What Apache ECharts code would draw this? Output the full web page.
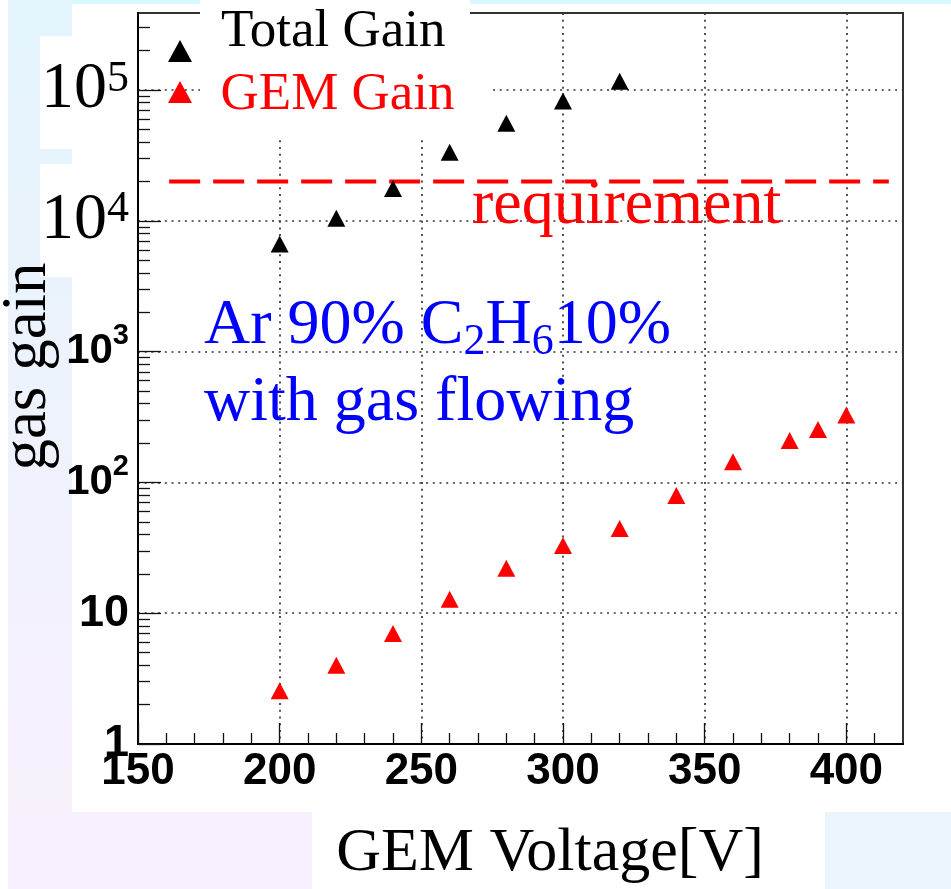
<!DOCTYPE html>
<html><head><meta charset="utf-8">
<script src="https://cdn.jsdelivr.net/npm/echarts@6/dist/echarts.min.js"></script>
<style>html,body{margin:0;padding:0;background:#fff;}#c{width:951px;height:889px;}</style>
</head><body><div id="c"></div>
<script>
// ---- data ----
const xTicks = [150, 200, 250, 300, 350, 400];
const xMinorTicks = [160,170,180,190,210,220,230,240,260,270,280,290,310,320,330,340,360,370,380,390,410];
const yTicks = [1, 10, 100, 1000, 10000, 100000];
const yTickLabels = ['1', '10', '10^2', '10^3', '10^4', '10^5'];
const yMinorTicks = [2,3,4,5,6,7,8,9,20,30,40,50,60,70,80,90,200,300,400,500,600,700,800,900,
  2000,3000,4000,5000,6000,7000,8000,9000,20000,30000,40000,50000,60000,70000,80000,90000,200000,300000];
const voltageTotal = [200, 220, 240, 260, 280, 300, 320];
const totalGain = [6650, 10470, 17700, 33400, 55600, 82600, 116700];
const voltageGem = [200, 220, 240, 260, 280, 300, 320, 340, 360, 380, 390, 400];
const gemGain = [2.55, 4.0, 7.0, 12.8, 22.1, 33.0, 44.5, 79.4, 144, 209, 254, 327];
const requirementX = [161, 415];
const requirementGain = 20000;
const seriesNames = ['Total Gain', 'GEM Gain'];

const serif = "'Liberation Serif','Times New Roman',serif";
const sans = "'Liberation Sans',Arial,sans-serif";

const chart = echarts.init(document.getElementById('c'), null, {renderer: 'canvas'});

function yLabel(v) {
  const i = yTicks.indexOf(v);
  const s = i >= 0 ? yTickLabels[i] : '';
  if (!s) return '';
  const p = s.split('^');
  if (p.length === 1) return '{b|' + s + '}';
  const exp = parseInt(p[1], 10);
  if (exp >= 4) return '{t|' + p[0] + '}{ts|' + p[1] + '}';
  return '{a|' + p[0] + '}{as|' + p[1] + '}';
}

const dotted = {color: '#333', width: 1.7, type: [2, 4.7]};

const option = {
  animation: false,
  backgroundColor: '#ffffff',
  grid: {left: 138, top: 13, right: 48, bottom: 145, show: true, backgroundColor: '#ffffff',
         borderColor: '#333', borderWidth: 2, containLabel: false, outerBoundsMode: 'none'},
  xAxis: [{
    type: 'value', min: 150, max: 420, interval: 50, position: 'bottom',
    axisLine: {show: true, onZero: false, lineStyle: {color: '#000', width: 2}},
    axisTick: {show: true, inside: true, length: 21, customValues: xTicks, lineStyle: {color: '#111', width: 1.3}},
    axisLabel: {show: true, customValues: xTicks, margin: 6, color: '#000', fontFamily: sans, fontWeight: 'bold', fontSize: 44},
    splitLine: {show: true, lineStyle: dotted}
  }, {
    type: 'value', min: 150, max: 420, interval: 50, position: 'bottom',
    axisLine: {show: false, onZero: false},
    axisTick: {show: true, inside: true, length: 11, customValues: xMinorTicks, lineStyle: {color: '#111', width: 1.3}},
    axisLabel: {show: false},
    splitLine: {show: false}
  }],
  yAxis: [{
    type: 'log', logBase: 10, min: 1, max: 388000, position: 'left',
    axisLine: {show: true, onZero: false, lineStyle: {color: '#000', width: 2}},
    axisTick: {show: true, inside: true, length: 23, customValues: yTicks, lineStyle: {color: '#111', width: 1.3}},
    axisLabel: {show: true, customValues: yTicks, margin: 9, color: '#000', formatter: yLabel,
      rich: {
        b: {fontFamily: sans, fontWeight: 'bold', fontSize: 45, lineHeight: 45, color: '#000'},
        a: {fontFamily: sans, fontWeight: 'bold', fontSize: 42, lineHeight: 60, color: '#000'},
        as: {fontFamily: sans, fontWeight: 'bold', fontSize: 29, lineHeight: 30, verticalAlign: 'top', color: '#000'},
        t: {fontFamily: serif, fontSize: 66, lineHeight: 66, color: '#000'},
        ts: {fontFamily: serif, fontSize: 44, lineHeight: 44, verticalAlign: 'top', color: '#000'}
      }},
    splitLine: {show: true, lineStyle: dotted}
  }, {
    type: 'log', logBase: 10, min: 1, max: 388000, position: 'left',
    axisLine: {show: false, onZero: false},
    axisTick: {show: true, inside: true, length: 12, customValues: yMinorTicks, lineStyle: {color: '#111', width: 1.3}},
    axisLabel: {show: false},
    splitLine: {show: false}
  }],
  series: [{
    name: seriesNames[0], type: 'scatter', xAxisIndex: 0, yAxisIndex: 0,
    symbol: 'triangle', symbolSize: [18, 17], itemStyle: {color: '#000000', opacity: 1},
    data: voltageTotal.map((v, i) => [v, totalGain[i]]), z: 5
  }, {
    name: seriesNames[1], type: 'scatter', xAxisIndex: 0, yAxisIndex: 0,
    symbol: 'triangle', symbolSize: [18, 17], itemStyle: {color: '#ff0000', opacity: 1},
    data: voltageGem.map((v, i) => [v, gemGain[i]]), z: 5
  }, {
    name: 'requirement', type: 'line', xAxisIndex: 0, yAxisIndex: 0, symbol: 'none',
    lineStyle: {color: '#ff0000', width: 4, type: [31, 13]},
    data: requirementX.map(x => [x, requirementGain]), z: 4, silent: true
  }],
  graphic: [
    // slide background pieces
    {type: 'rect', z: -10, shape: {x: 8, y: 0, width: 64, height: 812},
      style: {fill: new echarts.graphic.LinearGradient(0, 0, 0, 1, [{offset: 0, color: '#e3f4fc'}, {offset: 1, color: '#f8f1fc'}])}},
    {type: 'rect', z: -10, shape: {x: 72, y: 0, width: 879, height: 4}, style: {fill: '#d6f7fc'}},
    {type: 'rect', z: -10, shape: {x: 40, y: 36, width: 32, height: 113}, style: {fill: '#ffffff'}},
    {type: 'rect', z: -10, shape: {x: 40, y: 164, width: 32, height: 113}, style: {fill: '#ffffff'}},
    {type: 'rect', z: -10, shape: {x: 8, y: 812, width: 304, height: 77}, style: {fill: '#f8f0fc'}},
    {type: 'rect', z: -10, shape: {x: 825, y: 812, width: 126, height: 77}, style: {fill: '#ecf4fc'}},
    // legend box
    {type: 'rect', z: 50, shape: {x: 200, y: 0, width: 270, height: 138}, style: {fill: '#ffffff'}},
    {type: 'rect', z: 50, shape: {x: 200, y: 17, width: 290, height: 121}, style: {fill: '#ffffff'}},
    {type: 'polygon', z: 60, shape: {points: [[180, 40], [192, 62], [168, 62]]}, style: {fill: '#000000'}},
    {type: 'polygon', z: 60, shape: {points: [[180, 81], [192, 103], [168, 103]]}, style: {fill: '#ff0000'}},
    {type: 'text', z: 60, x: 221, y: 32.3, style: {text: seriesNames[0], fontFamily: serif, fontSize: 53, fill: '#000000', align: 'left', verticalAlign: 'middle'}},
    {type: 'text', z: 60, x: 220.5, y: 95.3, style: {text: seriesNames[1], fontFamily: serif, fontSize: 53, fill: '#ff0000', align: 'left', verticalAlign: 'middle'}},
    // annotations
    {type: 'text', z: 60, x: 472, y: 206.2, style: {text: 'requirement', fontFamily: serif, fontSize: 64, fill: '#ff0000', align: 'left', verticalAlign: 'middle'}},
    {type: 'text', z: 60, x: 204, y: 287.7, style: {
      text: '{m|Ar 90% C}{s|2}{m|H}{s|6}{m|10%}\n{m|with gas flowing}',
      align: 'left', verticalAlign: 'top', fill: '#0000ff', fontFamily: serif, fontSize: 64,
      rich: {
        m: {fontFamily: serif, fontSize: 64, lineHeight: 77, fill: '#0000ff'},
        s: {fontFamily: serif, fontSize: 44, lineHeight: 33, verticalAlign: 'bottom', fill: '#0000ff'}
      }}},
    // axis titles
    {type: 'text', z: 60, x: 28.6, y: 366.5, rotation: Math.PI / 2, style: {text: 'gas gain', fontFamily: serif, fontSize: 63, fill: '#000000', align: 'center', verticalAlign: 'middle'}},
    {type: 'text', z: 60, x: 550, y: 854, style: {text: 'GEM Voltage[V]', fontFamily: serif, fontSize: 62, fill: '#000000', align: 'center', verticalAlign: 'middle'}}
  ]
};
chart.setOption(option);
</script>
</body></html>
